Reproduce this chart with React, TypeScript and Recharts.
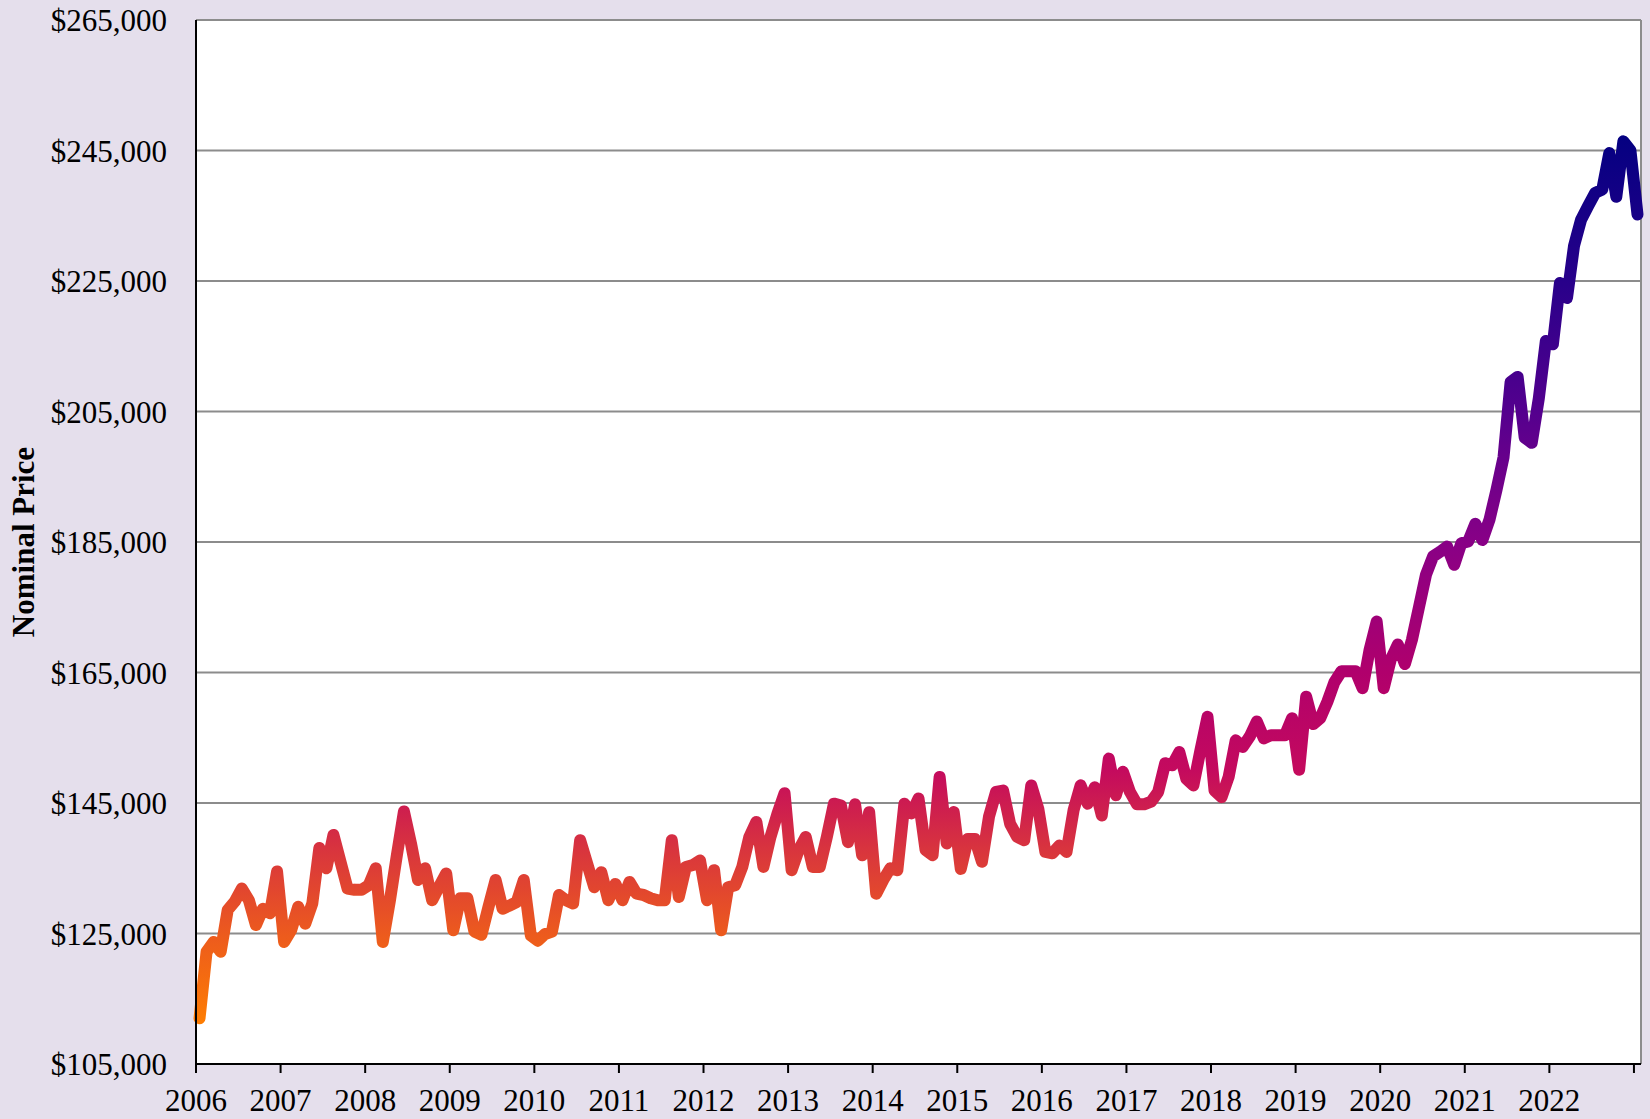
import { LineChart, Line, XAxis, YAxis, CartesianGrid, ReferenceLine } from 'recharts'

const FONT = "'Times New Roman', 'Liberation Serif', serif"

const START_YEAR = 2006

// monthly nominal price, Jan 2006 .. Jan 2023 (plotted mid-month)
const prices = [
  112000, 122200, 123700, 122200, 128600, 129900, 131900, 130100, 126300, 128800, 128100, 134500,
  123700, 125500, 129100, 126500, 129600, 138100, 135000, 140100, 136000, 131900, 131700, 131700,
  132400, 135000, 123700, 130000, 137000, 143700, 138800, 133200, 135000, 130100, 132200, 134200,
  125500, 130400, 130400, 125300, 124800, 129100, 133200, 128800, 129300, 129800, 133200, 124700,
  123900, 124900, 125300, 130900, 130100, 129600, 139300, 135700, 132100, 134400, 130100, 132600,
  130100, 132900, 131100, 130900, 130400, 130100, 130100, 139300, 130600, 135200, 135500, 136200,
  130100, 134700, 125500, 132100, 132400, 135200, 139800, 142100, 135200, 139800, 143400, 146500,
  134700, 137800, 139800, 135200, 135200, 139800, 144900, 144600, 139000, 144800, 137000, 143600,
  131100, 133200, 135000, 134700, 144900, 143400, 145700, 137800, 137000, 149000, 138800, 143600,
  134900, 139500, 139500, 136000, 142900, 146700, 146900, 141800, 139800, 139300, 147700, 144100,
  137500, 137300, 138500, 137500, 143900, 147700, 144900, 147400, 143100, 151800, 146200, 149800,
  146700, 144800, 144800, 145200, 146700, 151100, 150800, 152800, 148700, 147700, 153100, 158200,
  146900, 145900, 149000, 154600, 153600, 155200, 157500, 154900, 155400, 155400, 155400, 158000,
  150100, 161300, 157100, 158000, 160500, 163500, 165200, 165200, 165200, 162600, 168500, 172800,
  162600, 167000, 169300, 166300, 170000, 175000, 180000, 182800, 183500, 184300, 181500, 184800,
  185100, 187800, 185300, 188400, 193000, 198000, 209500, 210300, 201000, 200200, 207000, 215800,
  215300, 224700, 222400, 230400, 234400, 236500, 238500, 239000, 244600, 237900, 246400, 245000,
  235200,
]

const yearTicks = [
  2006, 2007, 2008, 2009, 2010, 2011, 2012, 2013, 2014, 2015, 2016, 2017, 2018, 2019, 2020, 2021,
  2022, 2023,
]
const priceTicks = [105000, 125000, 145000, 165000, 185000, 205000, 225000, 245000, 265000]

const data = prices.map((price, i) => ({ month: i + 0.5, price }))
const monthSpan = prices.length
const unlabeledYear = 2023

// plot geometry, used to place the value-based gradient
const PLOT_TOP = 20
const PLOT_H = 1044
const Y_MIN = 105000
const Y_MAX = 265000
const yPx = (v: number) => PLOT_TOP + ((Y_MAX - v) / (Y_MAX - Y_MIN)) * PLOT_H

const fmtPrice = (v: number) => '$' + v.toLocaleString('en-US')
const fmtYear = (m: number) => {
  const yr = START_YEAR + Math.round(m / 12)
  return yr === unlabeledYear ? '' : String(yr)
}

const AxisTitle = () => (
  <text
    x={23}
    y={542}
    transform="rotate(-90, 23, 542)"
    textAnchor="middle"
    dominantBaseline="central"
    fontFamily={FONT}
    fontSize={31}
    fontWeight="bold"
    fill="#000"
  >
    Nominal Price
  </text>
)

export default function App() {
  const tickStyle = { fill: '#000', fontSize: 31, fontFamily: FONT }
  return (
    <div
      style={{
        position: 'absolute',
        left: 0,
        top: 0,
        width: 1650,
        height: 1119,
        background: '#E5DFEC',
      }}
    >
      <LineChart
        width={1650}
        height={1119}
        data={data}
        margin={{ top: PLOT_TOP, right: 9, bottom: 0, left: 0 }}
      >
        <defs>
          <linearGradient
            id="priceGrad"
            gradientUnits="userSpaceOnUse"
            x1={0}
            x2={0}
            y1={yPx(110000)}
            y2={yPx(250000)}
          >
            <stop offset="0" stopColor="#FF8000" />
            <stop offset="0.107" stopColor="#EC5A1E" />
            <stop offset="0.2" stopColor="#D8343E" />
            <stop offset="0.286" stopColor="#C40A5E" />
            <stop offset="0.393" stopColor="#B0006C" />
            <stop offset="0.536" stopColor="#880086" />
            <stop offset="0.679" stopColor="#54008E" />
            <stop offset="0.821" stopColor="#28008A" />
            <stop offset="1" stopColor="#000080" />
          </linearGradient>
        </defs>
        <CartesianGrid vertical={false} fill="#ffffff" stroke="#8c8c8c" strokeWidth={2} />
        <XAxis
          type="number"
          dataKey="month"
          domain={[0, monthSpan]}
          ticks={yearTicks.map((y) => (y - START_YEAR) * 12)}
          tickFormatter={fmtYear}
          height={55}
          tickSize={9}
          tickMargin={16}
          tick={tickStyle}
          axisLine={{ stroke: '#000', strokeWidth: 2 }}
          tickLine={{ stroke: '#000', strokeWidth: 2 }}
          interval={0}
        />
        <YAxis
          type="number"
          domain={[Y_MIN, Y_MAX]}
          ticks={priceTicks}
          tickFormatter={fmtPrice}
          width={196}
          tickSize={0}
          tickMargin={29}
          tick={tickStyle}
          tickLine={false}
          axisLine={{ stroke: '#000', strokeWidth: 2 }}
          interval={0}
          label={<AxisTitle />}
        />
        <ReferenceLine x={monthSpan} stroke="#8c8c8c" strokeWidth={2} />
        <Line
          type="linear"
          dataKey="price"
          stroke="url(#priceGrad)"
          strokeWidth={12}
          strokeLinejoin="round"
          strokeLinecap="round"
          dot={false}
          activeDot={false}
          isAnimationActive={false}
        />
      </LineChart>
    </div>
  )
}
